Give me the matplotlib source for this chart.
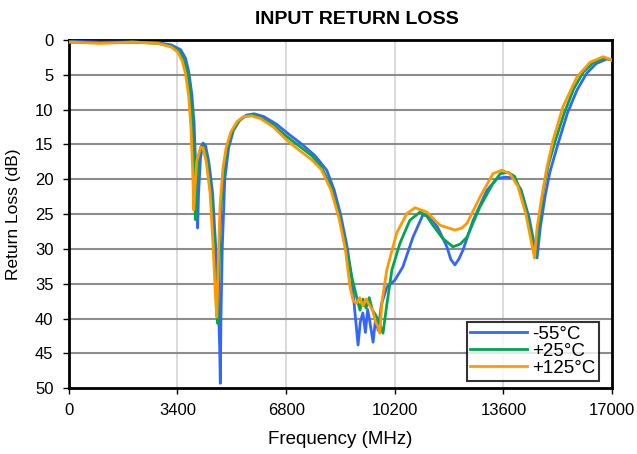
import matplotlib
matplotlib.use("Agg")
import matplotlib.pyplot as plt

plt.rcParams['font.family'] = ['Liberation Sans', 'DejaVu Sans']

# -55 C
freq_m55 = [0, 1000, 2000, 2800, 3200, 3500, 3650, 3750, 3850, 3920, 3970, 4000, 4030, 4060,
            4120, 4200, 4280, 4380, 4500, 4600, 4680, 4720, 4740, 4760, 4800, 4880, 5000, 5150,
            5350, 5550, 5800, 6100, 6500, 6900, 7300, 7700, 8070, 8300, 8500, 8700, 8850, 8950,
            9050, 9120, 9200, 9280, 9350, 9420, 9520, 9600, 9680, 9780, 9950, 10200, 10450,
            10770, 11080, 11300, 11550, 11830, 11950, 12080, 12200, 12330, 12650, 13080, 13400,
            13650, 13900, 14150, 14400, 14550, 14650, 14750, 14900, 15050, 15300, 15600, 15900,
            16200, 16500, 16850, 17000]
rl_m55 = [0.2, 0.3, 0.3, 0.4, 0.7, 1.4, 2.6, 4.5, 7.8, 12, 18, 22, 27, 22,
          17, 14.8, 15.2, 17.5, 22, 30, 38, 44, 49.3, 40, 30, 20, 15.5, 13,
          11.5, 10.8, 10.6, 11, 12.1, 13.6, 15, 16.6, 18.7, 21.5, 25, 29.5, 34, 39,
          43.8, 40.5, 39.2, 42, 38.7, 40.5, 43.4, 40, 41.7, 38, 35.5, 34.5, 32.6,
          28.3, 25.1, 25.4, 27, 29.7, 31.5, 32.3, 31.5, 30.2, 25.9, 21.6, 19.9,
          19.7, 19.8, 21.5, 25.5, 29, 31.3, 27, 22.5, 19, 15, 10.5, 7.2,
          4.8, 3.4, 2.7, 2.9]

# +25 C
freq_p25 = [0, 1000, 2000, 2800, 3200, 3450, 3600, 3700, 3800, 3870, 3920, 3960, 3990, 4050,
            4150, 4230, 4330, 4450, 4550, 4620, 4660, 4700, 4760, 4850, 4950, 5100, 5300, 5500,
            5750, 6000, 6400, 6800, 7200, 7600, 7900, 8200, 8450, 8650, 8850, 9000, 9110, 9200,
            9300, 9400, 9500, 9600, 9700, 9830, 9950, 10110, 10360, 10670, 10990, 11200, 11390,
            11700, 12020, 12250, 12460, 12860, 13270, 13500, 13740, 13950, 14210, 14430, 14600,
            14700, 14850, 15000, 15200, 15500, 15800, 16100, 16400, 16750, 17000]
rl_p25 = [0.3, 0.4, 0.3, 0.5, 0.9, 1.6, 2.8, 4.5, 7.5, 12, 18, 25.8, 22, 17,
          15.2, 15.3, 17.5, 22, 30, 37, 40.7, 33, 24, 18.5, 15.5, 13.2, 11.7, 11.0,
          10.8, 11.1, 12.2, 13.8, 15.2, 16.6, 18.2, 21, 25, 29.5, 34, 36.8, 38.8, 37.2,
          38.5, 37.0, 38.8, 39.5, 40.5, 42.1, 38, 33, 29.2, 25.9, 24.7, 25.3, 26.6,
          28.5, 29.7, 29.3, 28.3, 24, 20.6, 19.2, 19.0, 19.6, 22.6, 26.9, 31.2,
          27, 21.5, 18.0, 14.8, 10.5, 7.0, 4.6, 3.3, 2.6, 2.9]

# +125 C
freq_p125 = [0, 1000, 2000, 2800, 3200, 3400, 3550, 3650, 3750, 3820, 3870, 3910, 3950, 4000,
             4120, 4200, 4300, 4420, 4520, 4590, 4630, 4670, 4730, 4820, 4920, 5070, 5270, 5470,
             5720, 6000, 6400, 6800, 7200, 7600, 7900, 8200, 8450, 8650, 8800, 8900, 9010, 9100,
             9200, 9300, 9400, 9500, 9600, 9680, 9730, 9800, 9950, 10260, 10580, 10830, 11200,
             11610, 12080, 12300, 12460, 12860, 13270, 13550, 13800, 14050, 14300, 14450, 14570,
             14650, 14800, 14950, 15150, 15460, 15900, 16310, 16720, 17000]
rl_p125 = [0.3, 0.5, 0.3, 0.5, 1.0, 1.7, 3.0, 4.8, 8, 12.5, 18, 24.4, 21, 17.5,
           15.4, 15.5, 17.5, 22, 30, 37, 39.8, 33, 24, 18.5, 15.5, 13.2, 11.7, 11.0,
           10.9, 11.3, 12.5, 14.3, 15.8, 17.2, 18.6, 21.5, 25.5, 30, 35.5, 37.5, 37.8, 37.0,
           38.2, 37.2, 38.0, 38.8, 40.5, 41.2, 42.1, 37.5, 33, 27.7, 24.9, 24.1, 24.7,
           26.6, 27.3, 27.0, 26.3, 22.6, 19.2, 18.7, 19.2, 21, 25, 28.5, 31.3,
           27, 22.5, 18.5, 14.4, 9.6, 5.3, 3.2, 2.4, 2.9]

x_ticks = [0, 3400, 6800, 10200, 13600, 17000]
y_ticks = list(range(0, 55, 5))

fig = plt.figure(figsize=(6.37, 4.54), dpi=100)
ax = fig.add_axes([0.108, 0.145, 0.853, 0.767])

ax.plot(freq_m55, rl_m55, color='#3366ff', lw=2, label='-55°C', zorder=3)
ax.plot(freq_p25, rl_p25, color='#00a650', lw=2, label='+25°C', zorder=4)
ax.plot(freq_p125, rl_p125, color='#ff9900', lw=2, label='+125°C', zorder=5)

ax.set_xlim(0, 17000)
ax.set_ylim(50, 0)
ax.set_xticks(x_ticks)
ax.set_yticks(y_ticks)
for t in x_ticks[1:-1]:
    ax.axvline(t, color='#d4d4d4', lw=1.2, zorder=1)
for t in y_ticks[1:-1]:
    ax.axhline(t, color='#8c8c8c', lw=1.5, zorder=1)

for s in ax.spines.values():
    s.set_linewidth(2)
    s.set_color('black')
ax.tick_params(direction='out', length=4, width=1, labelsize=12, pad=7)

fig.text(357 / 637, 1 - 20 / 454, 'INPUT RETURN LOSS', fontsize=14, fontweight='bold',
         ha='center', va='center')
ax.set_xlabel('Frequency (MHz)', fontsize=13.5, labelpad=9)
ax.set_ylabel('Return Loss (dB)', fontsize=12.5, labelpad=10)

leg = ax.legend(loc='lower right', fontsize=13.5, frameon=True, fancybox=False,
                handlelength=3.0, handletextpad=0.3, borderpad=0.2, labelspacing=0.0,
                borderaxespad=0.4, bbox_to_anchor=(0.99, 0.0))
leg.get_frame().set_edgecolor('black')
leg.get_frame().set_linewidth(1.5)

fig.savefig('out.png', dpi=100)
